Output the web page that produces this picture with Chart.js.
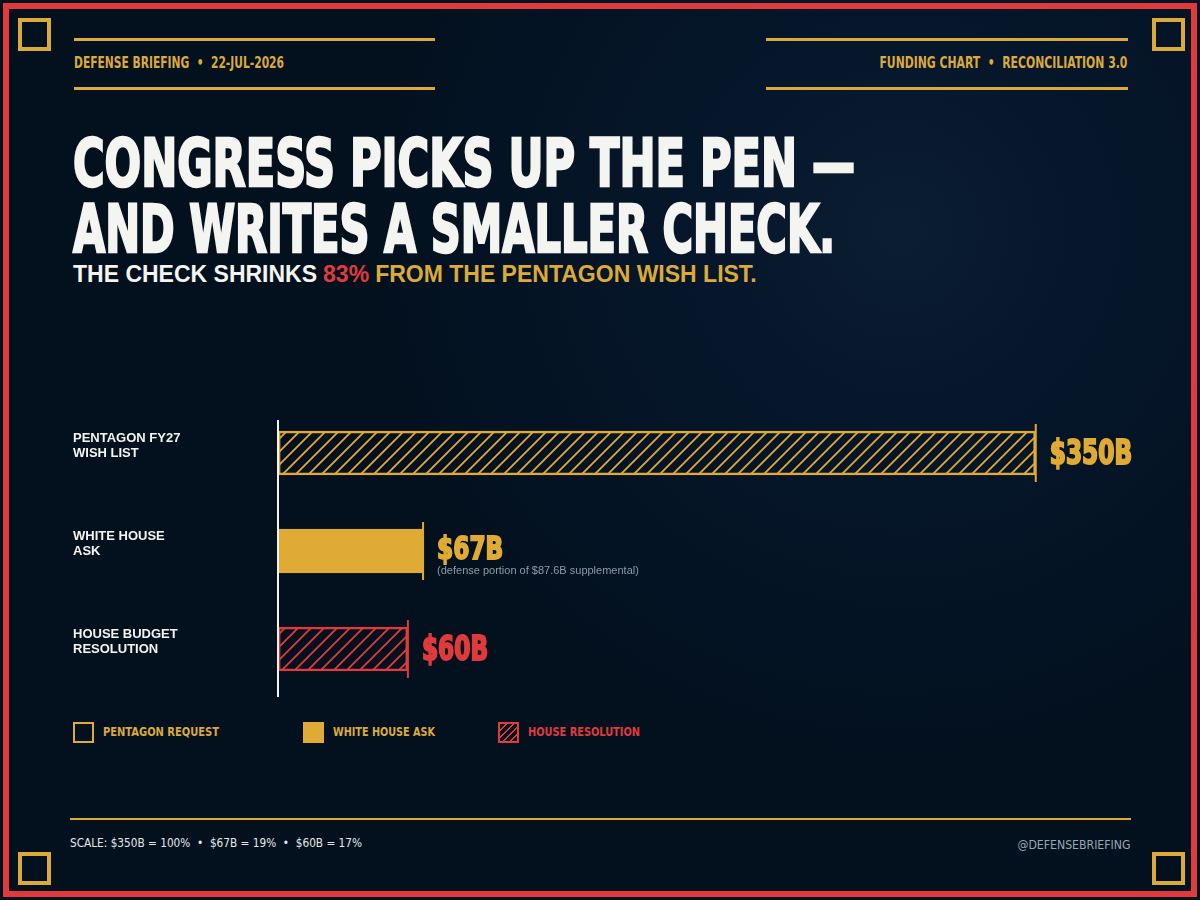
<!DOCTYPE html>
<html>
<head>
<meta charset="utf-8">
<script src="https://cdn.jsdelivr.net/npm/chart.js@4"></script>
<style>
  html, body { margin: 0; padding: 0; }
  body {
    width: 1200px; height: 900px; position: relative; overflow: hidden;
    background: radial-gradient(circle at 900px 230px, #0a1d31 0px, #06162a 220px, #03111f 520px);
    font-family: "Liberation Sans", Arial, sans-serif;
  }
  .frame { position: absolute; left: 3px; top: 3px; width: 1182px; height: 882px; border: 6px solid #e03a3c; }
  .corner { position: absolute; width: 25px; height: 25px; border: 4px solid #dcaa38; }
  .rule { position: absolute; height: 3px; background: #dcaa38; }
  .narrow { font-family: "Liberation Sans Narrow", "DejaVu Sans Condensed", sans-serif; font-weight: bold; }
  .txt { position: absolute; white-space: nowrap; }
  .fit { transform-origin: 0 0; display: inline-block; }
  .fitr { transform-origin: 100% 0; display: inline-block; }
  #wrap { position: absolute; left: 0; top: 380px; width: 1200px; height: 340px; }
  .sw { position: absolute; width: 17px; height: 17px; box-sizing: content-box; }
</style>
</head>
<body>
<div class="frame"></div>
<div class="corner" style="left:18px;top:18px"></div>
<div class="corner" style="left:1152px;top:18px"></div>
<div class="corner" style="left:18px;top:852px"></div>
<div class="corner" style="left:1152px;top:852px"></div>

<div class="rule" style="left:74px;top:38px;width:361px"></div>
<div class="rule" style="left:74px;top:87px;width:361px"></div>
<div class="rule" style="left:766px;top:38px;width:362px"></div>
<div class="rule" style="left:766px;top:87px;width:362px"></div>

<div class="txt narrow" style="left:74px;top:54px;font-size:15px;color:#dcaa38"><span class="fit" data-w="210">DEFENSE BRIEFING &nbsp;•&nbsp; 22-JUL-2026</span></div>
<div class="txt narrow" style="right:73px;top:54px;font-size:15px;color:#dcaa38"><span class="fitr" data-w="248">FUNDING CHART &nbsp;•&nbsp; RECONCILIATION 3.0</span></div>

<div class="txt narrow" style="left:73px;top:131px;font-size:66px;line-height:66px;color:#f4f4f0;-webkit-text-stroke:2.5px #f4f4f0"><span class="fit" data-w="782">CONGRESS PICKS UP THE PEN —</span></div>
<div class="txt narrow" style="left:73px;top:197px;font-size:66px;line-height:66px;color:#f4f4f0;-webkit-text-stroke:2.5px #f4f4f0"><span class="fit" data-w="762">AND WRITES A SMALLER CHECK.</span></div>

<div class="txt" style="left:73px;top:261px;font-size:23px;font-weight:bold;color:#f4f4f0;display:flex;gap:6px">
  <span>THE CHECK SHRINKS</span><span style="color:#e03a3c">83%</span><span style="color:#dcaa38">FROM THE PENTAGON WISH LIST.</span>
</div>

<div id="wrap"><canvas id="chart" width="1200" height="340"></canvas></div>

<div class="sw" style="left:73px;top:722px;border:2px solid #dcaa38"></div>
<div class="txt narrow" style="left:103px;top:724px;font-size:13px;color:#dcaa38"><span class="fit" data-w="116">PENTAGON REQUEST</span></div>
<div class="sw" style="left:303px;top:722px;border:2px solid #e0ab34;background:#e0ab34"></div>
<div class="txt narrow" style="left:333px;top:724px;font-size:13px;color:#dcaa38"><span class="fit" data-w="102">WHITE HOUSE ASK</span></div>
<div class="sw" style="left:498px;top:722px;border:2px solid #e03a3c;background:repeating-linear-gradient(-45deg, #03111f 0 4px, #e03a3c 4px 5px)"></div>
<div class="txt narrow" style="left:528px;top:724px;font-size:13px;color:#e03a3c"><span class="fit" data-w="112">HOUSE RESOLUTION</span></div>

<div class="rule" style="left:70px;top:818px;width:1061px;height:2px"></div>
<div class="txt" style="left:70px;top:836px;font-size:12px;font-family:'Liberation Sans Narrow','DejaVu Sans Condensed',sans-serif;color:#e8e8e8"><span class="fit" data-w="292">SCALE: $350B = 100% &nbsp;•&nbsp; $67B = 19% &nbsp;•&nbsp; $60B = 17%</span></div>
<div class="txt" style="right:70px;top:838px;font-size:12px;font-family:'Liberation Sans Narrow','DejaVu Sans Condensed',sans-serif;color:#9aa6b2"><span class="fitr" data-w="113">@DEFENSEBRIEFING</span></div>

<script>
// data
const categories = [['PENTAGON FY27', 'WISH LIST'], ['WHITE HOUSE', 'ASK'], ['HOUSE BUDGET', 'RESOLUTION']];
const amounts = [350, 67, 60];
const valueLabels = ['$350B', '$67B', '$60B'];
const notes = ['', '(defense portion of $87.6B supplemental)', ''];

const GOLD = '#e0ab34';
const RED = '#e03a3c';

// stretch text to the widths seen in the picture
document.querySelectorAll('.fit, .fitr').forEach(el => {
    const w = parseFloat(el.dataset.w);
    const k = w / el.getBoundingClientRect().width;
    el.style.transform = 'scaleX(' + k + ')';
});

function hatch(color) {
    const c = document.createElement('canvas');
    c.width = 13; c.height = 13;
    const g = c.getContext('2d');
    g.strokeStyle = color;
    g.lineWidth = 1.8;
    g.beginPath();
    g.moveTo(-2, 15); g.lineTo(15, -2);
    g.moveTo(-15, 15); g.lineTo(2, -2);
    g.moveTo(11, 15); g.lineTo(28, -2);
    g.stroke();
    return g.createPattern(c, 'repeat');
}

const ctx = document.getElementById('chart').getContext('2d');

const decor = {
    id: 'decor',
    afterDatasetsDraw(chart) {
        const c = chart.ctx;
        const meta = chart.getDatasetMeta(0);
        const xs = chart.scales.x;
        const area = chart.chartArea;
        c.save();
        // baseline
        c.strokeStyle = '#f4f4f0';
        c.lineWidth = 2;
        c.beginPath();
        c.moveTo(xs.getPixelForValue(0), area.top + 16);
        c.lineTo(xs.getPixelForValue(0), area.bottom - 1);
        c.stroke();
        meta.data.forEach((bar, i) => {
            const col = i === 2 ? RED : GOLD;
            const h = bar.height;
            // end cap
            c.strokeStyle = col;
            c.lineWidth = 2;
            c.beginPath();
            c.moveTo(bar.x, bar.y - h / 2 - 7);
            c.lineTo(bar.x, bar.y + h / 2 + 7);
            c.stroke();
            // category label
            c.fillStyle = '#f4f4f0';
            c.font = 'bold 13px "Liberation Sans", Arial, sans-serif';
            c.textAlign = 'left';
            c.textBaseline = 'middle';
            categories[i].forEach((ln, j) => {
                c.fillText(ln, 73, bar.y - 15 + j * 15);
            });
            // value
            c.fillStyle = col;
            c.font = 'bold 34px "Liberation Sans Narrow", "DejaVu Sans Condensed", sans-serif';
            const tx = bar.x + 14;
            c.save();
            c.translate(tx, notes[i] ? bar.y : bar.y + 2);
            c.scale(0.76, notes[i] ? 0.92 : 1.0);
            c.lineWidth = 2;
            c.strokeStyle = col;
            c.strokeText(valueLabels[i], 0, 0);
            c.fillText(valueLabels[i], 0, 0);
            c.restore();
            if (notes[i]) {
                c.fillStyle = '#8f9aa6';
                c.font = '11px "Liberation Sans", Arial, sans-serif';
                c.fillText(notes[i], tx, bar.y + 20);
            }
        });
        c.restore();
    }
};

new Chart(ctx, {
    type: 'bar',
    data: {
        labels: categories,
        datasets: [{
            data: amounts,
            backgroundColor: [hatch(GOLD), GOLD, hatch(RED)],
            borderColor: [GOLD, GOLD, RED],
            borderWidth: 2,
            borderSkipped: false,
            barThickness: 44
        }]
    },
    options: {
        indexAxis: 'y',
        responsive: false,
        animation: false,
        layout: { padding: { left: 73, right: 56, top: 24, bottom: 22 } },
        plugins: { legend: { display: false }, tooltip: { enabled: false } },
        scales: {
            x: { display: false, min: 0, max: 400 },
            y: {
                grid: { display: false },
                border: { display: false },
                ticks: { display: false },
                afterFit(scale) { scale.width = 205; }
            }
        }
    },
    plugins: [decor]
});
</script>
</body>
</html>
